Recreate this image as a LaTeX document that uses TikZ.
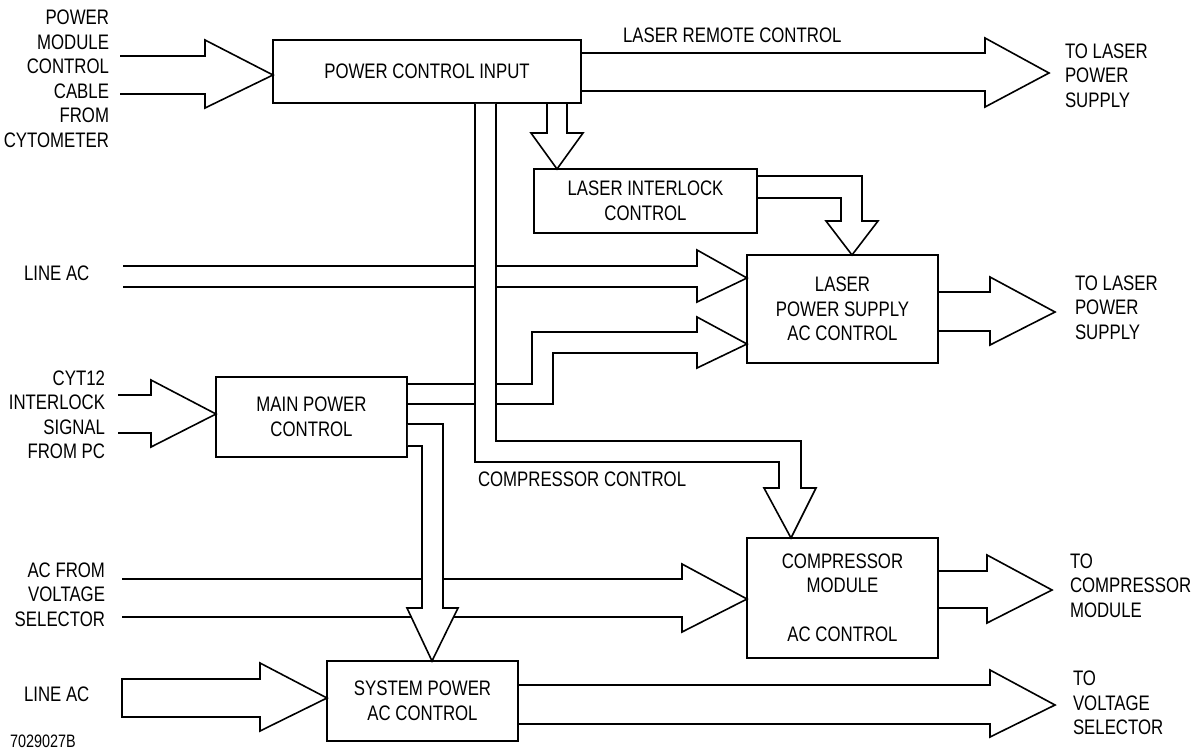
\documentclass[tikz,border=0pt]{standalone}
\usepackage{fontspec}
\setmainfont{Liberation Sans}[FakeStretch=0.8]
\usetikzlibrary{calc}
\begin{document}
\begin{tikzpicture}[x=1pt,y=-1pt, line width=1.6pt, line join=miter,
  box/.style={draw, inner sep=0pt, outer sep=0pt, align=center, anchor=north west},
  lbl/.style={inner sep=0pt, outer sep=0pt},
  fat/.style={draw, fill=white},
  font=\fontsize{21}{24.5}\selectfont]
\useasboundingbox (0,0) rectangle (1192,750);

% boxes
\node[box, minimum width=308pt, minimum height=63pt] (pci) at (273,40) {POWER CONTROL INPUT};
\node[box, minimum width=223pt, minimum height=64pt] (lic) at (534,169) {LASER INTERLOCK\\CONTROL};
\node[box, minimum width=191pt, minimum height=108pt] (lps) at (747,255) {LASER\\POWER SUPPLY\\AC CONTROL};
\node[box, minimum width=191pt, minimum height=80pt] (mpc) at (216,377) {MAIN POWER\\CONTROL};
\node[box, minimum width=191pt, minimum height=120pt] (cmp) at (747,538) {COMPRESSOR\\MODULE\\[24.5pt]AC CONTROL};
\node[box, minimum width=191pt, minimum height=80pt] (sps) at (327,661) {SYSTEM POWER\\AC CONTROL};

% labels
\node[lbl, align=right, anchor=east] (l1) at (109,78.75) {POWER\\MODULE\\CONTROL\\CABLE\\FROM\\CYTOMETER};
\node[lbl, anchor=west] (l2) at (623,35) {LASER REMOTE CONTROL};
\node[lbl, align=left, anchor=west] (l3) at (1065,75.5) {TO LASER\\POWER\\SUPPLY};
\node[lbl, anchor=west] (l4) at (24,273) {LINE AC};
\node[lbl, align=left, anchor=west] (l5) at (1075,307.5) {TO LASER\\POWER\\SUPPLY};
\node[lbl, align=right, anchor=east] (l6) at (105,415) {CYT12\\INTERLOCK\\SIGNAL\\FROM PC};
\node[lbl, anchor=west] (l7) at (478,479) {COMPRESSOR CONTROL};
\node[lbl, align=right, anchor=east] (l8) at (105,594.5) {AC FROM\\VOLTAGE\\SELECTOR};
\node[lbl, align=left, anchor=west] (l9) at (1070,585.5) {TO\\COMPRESSOR\\MODULE};
\node[lbl, anchor=west] (l10) at (24,694) {LINE AC};
\node[lbl, align=left, anchor=west] (l11) at (1073,703) {TO\\VOLTAGE\\SELECTOR};
\node[lbl, anchor=west, font=\fontsize{18}{20}\selectfont] (l12) at (10,741) {7029027B};

% free ends
\coordinate (c1a) at (120,56);  \coordinate (c1b) at (120,94);
\coordinate (c5a) at (123,266); \coordinate (c5b) at (123,287);
\coordinate (c9a) at (122,579); \coordinate (c9b) at (122,617);
\coordinate (c12a) at (122,679); \coordinate (c12b) at (122,717);
\coordinate (c13a) at (118,395); \coordinate (c13b) at (118,433);

% cable -> power control input
\draw (c1a) -- (205,56) -- (205,40) -- ($(pci.north west)+(0,35)$) -- (205,108) -- (205,94) -- (c1b);
% power control input -> laser remote control
\draw ($(pci.north east)+(0,13)$) -- (985,53) -- (985,38) -- (1049,73) -- (985,107) -- (985,91) -- ($(pci.north east)+(0,51)$);
% power control input -> laser interlock
\draw ($(pci.south west)+(274,0)$) -- (547,133) -- (531,133) -- ($(lic.north west)+(23,0)$) -- (583,133) -- (567,133) -- ($(pci.south west)+(294,0)$);
% laser interlock -> laser power supply
\draw ($(lic.north east)+(0,7)$) -- (862,176) -- (862,221) -- (878,221) -- ($(lps.north west)+(105,0)$) -- (826,221) -- (841,221) -- (841,198) -- ($(lic.north east)+(0,29)$);
% line AC -> laser power supply
\draw (c5a) -- (697,266) -- (697,250) -- ($(lps.north west)+(0,23)$) -- (697,302) -- (697,287) -- (c5b);
% main power -> laser power supply
\draw ($(mpc.north east)+(0,7)$) -- (532,384) -- (532,332) -- (697,332) -- (697,317) -- ($(lps.north west)+(0,89)$) -- (697,368) -- (697,353) -- (553,353) -- (553,404) -- ($(mpc.north east)+(0,27)$);
% AC from voltage selector -> compressor
\draw (c9a) -- (682,579) -- (682,564) -- ($(cmp.north west)+(0,61)$) -- (682,632) -- (682,617) -- (c9b);
% compressor -> out
\draw ($(cmp.north east)+(0,33)$) -- (987,571) -- (987,555) -- (1052,590) -- (987,623) -- (987,608) -- ($(cmp.north east)+(0,70)$);
% laser power supply -> out
\draw ($(lps.north east)+(0,37)$) -- (990,292) -- (990,277) -- (1055,312) -- (990,345) -- (990,331) -- ($(lps.north east)+(0,76)$);
% line AC -> system power
\draw (c12a) -- (260,679) -- (260,663) -- ($(sps.north west)+(0,37)$) -- (260,731) -- (260,717) -- (c12b) -- cycle;
% CYT12 -> main power
\draw (c13a) -- (151,395) -- (151,380) -- ($(mpc.north west)+(0,37)$) -- (151,447) -- (151,433) -- (c13b);
% system power -> voltage selector
\draw ($(sps.north east)+(0,24)$) -- (990,685) -- (990,670) -- (1055,705) -- (990,737) -- (990,724) -- ($(sps.north east)+(0,63)$);

% wide buses drawn over crossing lines
\path[fat] ($(pci.south west)+(202,0.8)$) -- (475,462) -- (779,462) -- (779,488) -- (764,488) -- ($(cmp.north west)+(44,0)$) -- (816,488) -- (801,488) -- (801,441) -- (496,441) -- ($(pci.south west)+(223,0.8)$);
\path[fat] ($(mpc.north east)+(0.8,47)$) -- (443,424) -- (443,608) -- (458,608) -- ($(sps.north west)+(105,0)$) -- (407,608) -- (422,608) -- (422,446) -- ($(mpc.north east)+(0.8,69)$);
\end{tikzpicture}
\end{document}
